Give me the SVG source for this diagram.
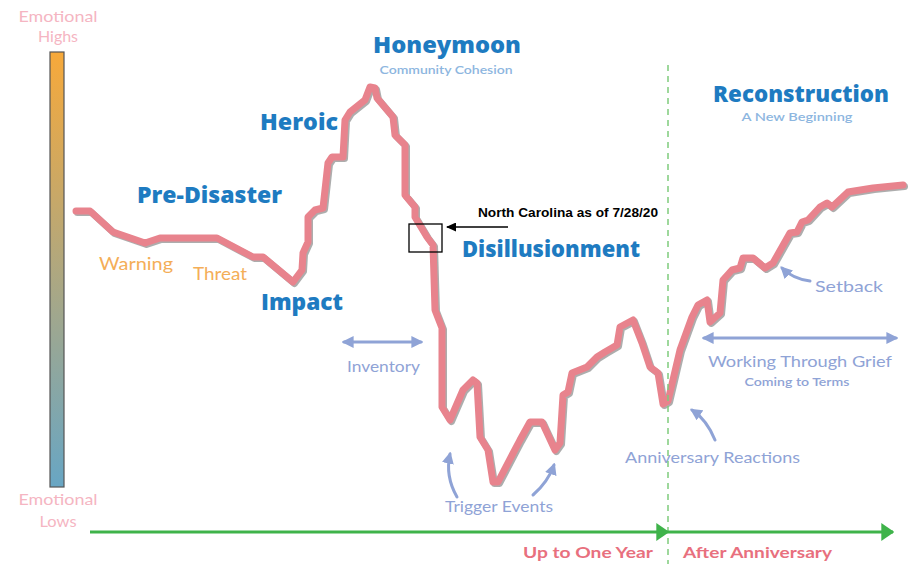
<svg xmlns="http://www.w3.org/2000/svg" width="914" height="564" viewBox="0 0 914 564">
<defs>
<linearGradient id="barGrad" x1="0" y1="0" x2="0" y2="1">
<stop offset="0" stop-color="#F7A93A"/>
<stop offset="1" stop-color="#68A6C4"/>
</linearGradient>
<marker id="mBlue" viewBox="0 0 10 10" refX="8" refY="5" markerWidth="12" markerHeight="12" markerUnits="userSpaceOnUse" orient="auto-start-reverse">
<path d="M0,0 L10,5 L0,10 Z" fill="#8FA3D6"/>
</marker>
<marker id="mGreen" viewBox="0 0 10 10" refX="9" refY="5" markerWidth="13" markerHeight="18" markerUnits="userSpaceOnUse" orient="auto" preserveAspectRatio="none">
<path d="M0,0 L10,5 L0,10 Z" fill="#3FB34A"/>
</marker>
<marker id="mBlack" viewBox="0 0 10 10" refX="9" refY="5" markerWidth="10" markerHeight="9" markerUnits="userSpaceOnUse" orient="auto" preserveAspectRatio="none">
<path d="M0,0 L10,5 L0,10 Z" fill="#000"/>
</marker>
</defs>
<style>
.head{font-family:"Open Sans","Lato",sans-serif;font-weight:800;fill:#1E7BC1;font-size:22px}
.sub{font-family:"Lato","Open Sans",sans-serif;font-weight:600;fill:#8DB6E0;font-size:12px}
.lab{font-family:"Lato","Open Sans",sans-serif;fill:#8FA3D6;font-size:16px}
.warn{font-family:"Lato","Open Sans",sans-serif;fill:#F4AE58;font-size:17px}
.emo{font-family:"Lato","Open Sans",sans-serif;fill:#F5B5C2;font-size:15px}
.axis{font-family:"Lato","Open Sans",sans-serif;font-weight:700;fill:#E8707E;font-size:16px}
.note{font-family:"Liberation Sans",Arial,sans-serif;font-weight:700;fill:#000;font-size:12px}
.arrB{fill:none;stroke:#8FA3D6;stroke-width:3;stroke-linecap:round}
</style>
<rect width="914" height="564" fill="#FFFFFF"/>

<g id="scale-bar">
<rect x="50" y="52" width="14" height="435" fill="url(#barGrad)" stroke="#555" stroke-width="1.2"/>
<text class="emo" x="58" y="22" text-anchor="middle" textLength="79" lengthAdjust="spacingAndGlyphs">Emotional</text>
<text class="emo" x="58" y="42" text-anchor="middle" textLength="40" lengthAdjust="spacingAndGlyphs">Highs</text>
<text class="emo" x="58" y="505" text-anchor="middle" textLength="79" lengthAdjust="spacingAndGlyphs">Emotional</text>
<text class="emo" x="58" y="527" text-anchor="middle" textLength="37" lengthAdjust="spacingAndGlyphs">Lows</text>
</g>

<g id="curve">
<path d="M76,211 L90,211 L113,232 L145,243 L160,238 L217,238 L253,257 L263,257 L293,282 L302,270 L303,253 L308,242 L308,217 L315,210 L323,208 L328,163 L332,157 L343,157 L345,120 L350,112 L365,100 L370,87 L375,88 L377,98 L393,117 L395,135 L405,145 L405,195 L415,207 L415,217 L427,237 L433,245 L435,310 L442,328 L442,407 L450,420 L463,390 L473,380 L477,383 L480,437 L488,450 L493,482 L498,482 L520,440 L530,422 L542,422 L555,450 L560,443 L563,395 L568,392 L572,373 L587,367 L597,357 L605,352 L617,345 L620,327 L633,320 L642,343 L650,367 L658,373 L663,404 L668,401 L680,350 L692,317 L698,305 L707,300 L710,322 L720,313 L723,280 L732,270 L740,268 L743,258 L753,258 L765,268 L773,263 L790,233 L797,232 L802,222 L808,220 L820,207 L827,203 L832,207 L848,192 L873,188 L903,185" fill="none" stroke="#8A8A8A" stroke-opacity="0.7" stroke-width="7" stroke-linejoin="round" stroke-linecap="round" transform="translate(1.5,1.5)"/>
<path d="M76,211 L90,211 L113,232 L145,243 L160,238 L217,238 L253,257 L263,257 L293,282 L302,270 L303,253 L308,242 L308,217 L315,210 L323,208 L328,163 L332,157 L343,157 L345,120 L350,112 L365,100 L370,87 L375,88 L377,98 L393,117 L395,135 L405,145 L405,195 L415,207 L415,217 L427,237 L433,245 L435,310 L442,328 L442,407 L450,420 L463,390 L473,380 L477,383 L480,437 L488,450 L493,482 L498,482 L520,440 L530,422 L542,422 L555,450 L560,443 L563,395 L568,392 L572,373 L587,367 L597,357 L605,352 L617,345 L620,327 L633,320 L642,343 L650,367 L658,373 L663,404 L668,401 L680,350 L692,317 L698,305 L707,300 L710,322 L720,313 L723,280 L732,270 L740,268 L743,258 L753,258 L765,268 L773,263 L790,233 L797,232 L802,222 L808,220 L820,207 L827,203 L832,207 L848,192 L873,188 L903,185" fill="none" stroke="#E8838D" stroke-width="7" stroke-linejoin="round" stroke-linecap="round"/>
</g>

<g id="phase-labels">
<text class="head" x="447" y="53" text-anchor="middle" textLength="148" lengthAdjust="spacingAndGlyphs">Honeymoon</text>
<text class="sub" x="446" y="74" text-anchor="middle" textLength="133" lengthAdjust="spacingAndGlyphs">Community Cohesion</text>
<text class="head" x="260" y="130" textLength="78" lengthAdjust="spacingAndGlyphs">Heroic</text>
<text class="head" x="137" y="203" textLength="145" lengthAdjust="spacingAndGlyphs">Pre-Disaster</text>
<text class="warn" x="99" y="270" textLength="74" lengthAdjust="spacingAndGlyphs">Warning</text>
<text class="warn" x="193" y="280" textLength="54" lengthAdjust="spacingAndGlyphs">Threat</text>
<text class="head" x="261" y="310" textLength="82" lengthAdjust="spacingAndGlyphs">Impact</text>
<text class="head" x="462" y="257" textLength="178" lengthAdjust="spacingAndGlyphs">Disillusionment</text>
<text class="head" x="713" y="102" textLength="176" lengthAdjust="spacingAndGlyphs">Reconstruction</text>
<text class="sub" x="797" y="121" text-anchor="middle" textLength="111" lengthAdjust="spacingAndGlyphs">A New Beginning</text>
<text class="lab" x="347" y="372" textLength="73" lengthAdjust="spacingAndGlyphs">Inventory</text>
<text class="lab" x="445" y="512" textLength="108" lengthAdjust="spacingAndGlyphs">Trigger Events</text>
<text class="lab" x="625" y="463" textLength="175" lengthAdjust="spacingAndGlyphs">Anniversary Reactions</text>
<text class="lab" x="815" y="292" font-size="17" textLength="68" lengthAdjust="spacingAndGlyphs">Setback</text>
<text class="lab" x="708" y="367" font-size="17" textLength="184" lengthAdjust="spacingAndGlyphs">Working Through Grief</text>
<text class="sub" x="797" y="386" text-anchor="middle" style="fill:#8FA3D6" textLength="105" lengthAdjust="spacingAndGlyphs">Coming to Terms</text>
<text class="axis" x="523" y="558" textLength="130" lengthAdjust="spacingAndGlyphs">Up to One Year</text>
<text class="axis" x="683" y="558" textLength="149" lengthAdjust="spacingAndGlyphs">After Anniversary</text>
</g>

<g id="annotation">
<rect x="409" y="224" width="33" height="28" fill="none" stroke="#000" stroke-width="1.3"/>
<text class="note" x="478" y="217" textLength="180" lengthAdjust="spacingAndGlyphs">North Carolina as of 7/28/20</text>
</g>

<g id="connectors">
<line x1="668" y1="65" x2="668" y2="564" stroke="#7FCB7C" stroke-width="1.5" stroke-dasharray="6,5"/>
<line x1="90" y1="532" x2="668" y2="532" stroke="#3FB34A" stroke-width="3" marker-end="url(#mGreen)"/>
<line x1="668" y1="532" x2="893" y2="532" stroke="#3FB34A" stroke-width="3" marker-end="url(#mGreen)"/>
<line x1="508" y1="227" x2="447" y2="227" stroke="#000" stroke-width="1.5" marker-end="url(#mBlack)"/>
<line class="arrB" x1="344" y1="342" x2="421" y2="342" marker-start="url(#mBlue)" marker-end="url(#mBlue)"/>
<line class="arrB" x1="704" y1="338" x2="896" y2="338" marker-start="url(#mBlue)" marker-end="url(#mBlue)"/>
<path class="arrB" d="M457,497 Q445,476 450,454" marker-end="url(#mBlue)"/>
<path class="arrB" d="M533,495 Q548,482 554,465" marker-end="url(#mBlue)"/>
<path class="arrB" d="M715,440 Q707,420 692,410" marker-end="url(#mBlue)"/>
<path class="arrB" d="M810,281 Q793,279 782,268" marker-end="url(#mBlue)"/>
</g>
</svg>
